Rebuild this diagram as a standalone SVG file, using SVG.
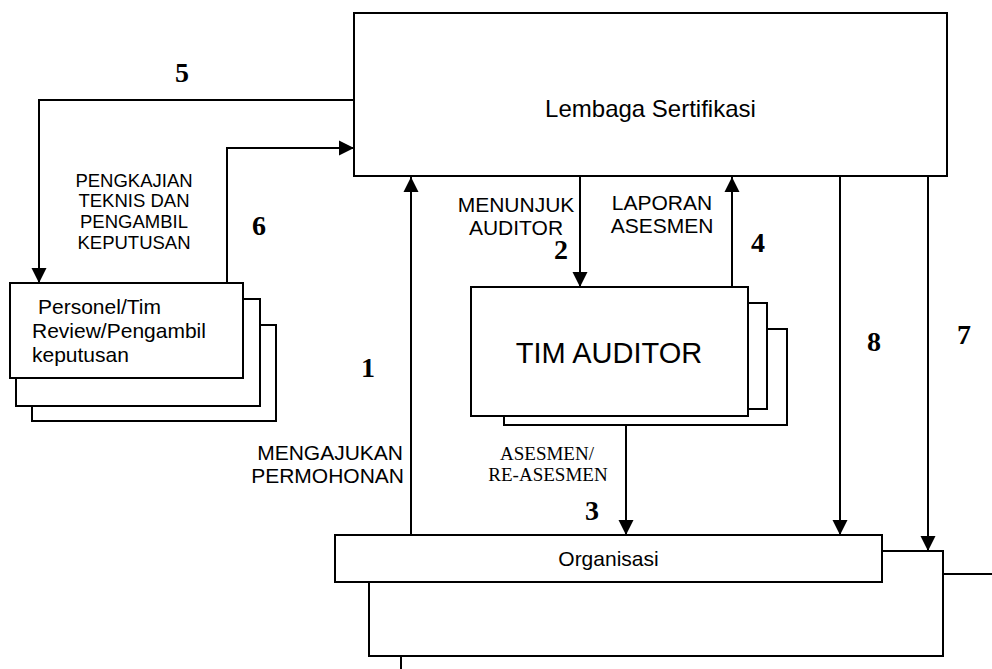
<svg xmlns="http://www.w3.org/2000/svg" width="992" height="669" viewBox="0 0 992 669">
<defs>
<marker id="ah" markerUnits="userSpaceOnUse" markerWidth="16" markerHeight="16" viewBox="0 0 16 16" refX="15" refY="8" orient="auto">
<path d="M0,0.5 L15,8 L0,15.5 z" fill="#000"/>
</marker>
</defs>
<style>
.box{fill:#fff;stroke:#000;stroke-width:2}
.ln{fill:none;stroke:#000;stroke-width:2}
.arr{fill:none;stroke:#000;stroke-width:2;marker-end:url(#ah)}
.sans{font-family:"Liberation Sans",Arial,sans-serif;fill:#000}
.num{font-family:"Liberation Serif","Times New Roman",serif;font-weight:bold;fill:#000;font-size:28px}
.ser{font-family:"Liberation Serif","Times New Roman",serif;fill:#000;font-size:19px}
</style>
<rect width="992" height="669" fill="#fff"/>

<g id="lembaga">
<rect class="box" x="354" y="13" width="593" height="163"/>
<text class="sans" x="650.5" y="117" font-size="24" text-anchor="middle">Lembaga Sertifikasi</text>
</g>

<g id="personel">
<rect class="box" x="32" y="325" width="244" height="96"/>
<rect class="box" x="16" y="299" width="244" height="107"/>
<rect class="box" x="10" y="283" width="233" height="95"/>
<text class="sans" font-size="21"><tspan x="38" y="314">Personel/Tim</tspan><tspan x="32" y="338">Review/Pengambil</tspan><tspan x="32" y="362">keputusan</tspan></text>
</g>

<g id="tim-auditor">
<rect class="box" x="504" y="329" width="283" height="96"/>
<rect class="box" x="490" y="303" width="277" height="106"/>
<rect class="box" x="471" y="287" width="277" height="129"/>
<text class="sans" x="609" y="363" font-size="29" text-anchor="middle">TIM AUDITOR</text>
</g>

<g id="organisasi">
<rect class="box" x="369" y="551" width="574" height="105"/>
<rect class="box" x="335" y="535" width="547" height="47"/>
<text class="sans" x="608.5" y="566" font-size="21" text-anchor="middle">Organisasi</text>
</g>

<g id="connectors">
<path class="arr" d="M354,100 H39 V283"/>
<path class="arr" d="M227,283 V148 H354"/>
<path class="arr" d="M580,176 V287"/>
<path class="arr" d="M732,287 V177"/>
<path class="arr" d="M411,535 V177"/>
<path class="arr" d="M626,425 V535"/>
<path class="arr" d="M840,176 V535"/>
<path class="arr" d="M928,176 V551"/>
<path class="ln" d="M943,574 H992"/>
<path class="ln" d="M401,656 V669"/>
</g>

<g id="labels">
<text class="sans" font-size="18.5" text-anchor="middle"><tspan x="134" y="187">PENGKAJIAN</tspan><tspan x="134" y="207">TEKNIS DAN</tspan><tspan x="134" y="228">PENGAMBIL</tspan><tspan x="134" y="249">KEPUTUSAN</tspan></text>
<text class="sans" font-size="21" text-anchor="middle"><tspan x="516" y="212">MENUNJUK</tspan><tspan x="516" y="235">AUDITOR</tspan></text>
<text class="sans" font-size="21" text-anchor="middle"><tspan x="662" y="210">LAPORAN</tspan><tspan x="662" y="233">ASESMEN</tspan></text>
<text class="sans" font-size="21" text-anchor="end"><tspan x="403" y="460">MENGAJUKAN</tspan><tspan x="404" y="483">PERMOHONAN</tspan></text>
<text class="ser" text-anchor="middle"><tspan x="547" y="460">ASESMEN/</tspan><tspan x="548" y="481">RE-ASESMEN</tspan></text>
<text class="num" x="175" y="82">5</text>
<text class="num" x="252" y="235" font-size="25">6</text>
<text class="num" x="554" y="259" font-size="25">2</text>
<text class="num" x="751" y="252">4</text>
<text class="num" x="361" y="377">1</text>
<text class="num" x="585" y="520">3</text>
<text class="num" x="867" y="351">8</text>
<text class="num" x="957" y="344">7</text>
</g>
</svg>
